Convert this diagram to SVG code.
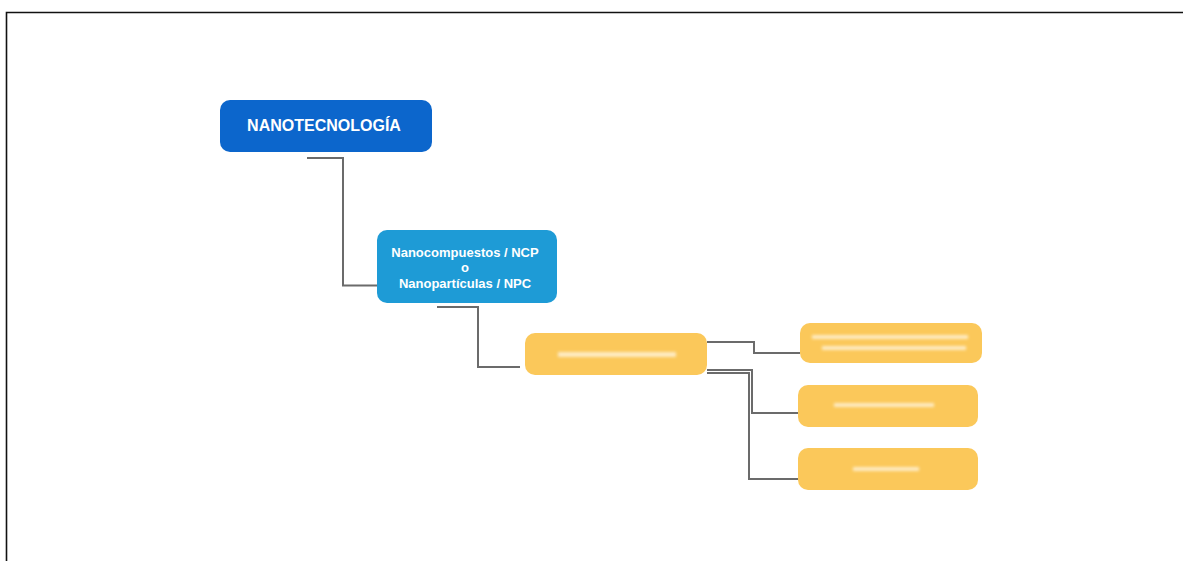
<svg xmlns="http://www.w3.org/2000/svg" width="1183" height="561" viewBox="0 0 1183 561">
<defs>
<style>
.frame{fill:none;stroke:#111;stroke-width:1.6}
.conn{fill:none;stroke:#6b6b6b;stroke-width:2}
.txt{font-family:"Liberation Sans",Arial,sans-serif;font-weight:bold;fill:#fff;text-anchor:middle}
.yel{fill:#fbc85a}
.blur{fill:#fff4dc;opacity:0.8}
</style>
<filter id="bl" x="-20%" y="-100%" width="140%" height="300%"><feGaussianBlur stdDeviation="1.4"/></filter>
</defs>
<rect width="1183" height="561" fill="#fff"/>
<path class="frame" d="M6.5 561 V12.5 H1183"/>
<g id="connectors">
<path class="conn" d="M307 158 H343 V285.5 H377"/>
<path class="conn" d="M437 307 H478 V367 H520"/>
<path class="conn" d="M707 342 H754 V353 H800"/>
<path class="conn" d="M707 370 H752 V413 H800"/>
<path class="conn" d="M707 373 H749 V479 H800"/>
</g>
<g id="n-nanotecnologia">
<rect x="220" y="100" width="212" height="52" rx="10" fill="#0c66cc"/>
<text class="txt" x="324" y="131" font-size="16">NANOTECNOLOGÍA</text>
</g>
<g id="n-ncp">
<rect x="377" y="230" width="180" height="73" rx="10" fill="#1e9bd6"/>
<text class="txt" x="465" y="257" font-size="13">Nanocompuestos / NCP</text>
<text class="txt" x="465" y="272" font-size="13">o</text>
<text class="txt" x="465" y="288" font-size="13">Nanopartículas / NPC</text>
</g>
<g id="n-y1">
<rect class="yel" x="525" y="333" width="182" height="42" rx="10"/>
<rect class="blur" x="558" y="352" width="118" height="5" filter="url(#bl)"/>
</g>
<g id="n-y2">
<rect class="yel" x="800" y="323" width="182" height="40" rx="10"/>
<rect class="blur" x="812" y="335" width="156" height="4" filter="url(#bl)"/>
<rect class="blur" x="822" y="346" width="144" height="4" filter="url(#bl)"/>
</g>
<g id="n-y3">
<rect class="yel" x="798" y="385" width="180" height="42" rx="10"/>
<rect class="blur" x="834" y="403" width="100" height="4" filter="url(#bl)"/>
</g>
<g id="n-y4">
<rect class="yel" x="798" y="448" width="180" height="42" rx="10"/>
<rect class="blur" x="853" y="467" width="66" height="4" filter="url(#bl)"/>
</g>
</svg>
